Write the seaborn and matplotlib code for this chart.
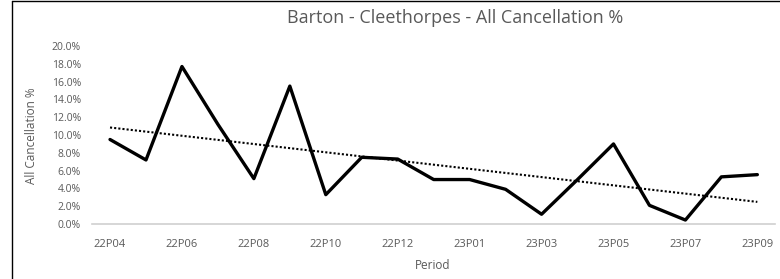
import numpy as np
import pandas as pd
import matplotlib
matplotlib.use("Agg")
import matplotlib.pyplot as plt
import seaborn as sns
from matplotlib.ticker import FuncFormatter

# ── DATA ─────────────────────────────────────────────────
periods = ["22P04", "22P05", "22P06", "22P07", "22P08", "22P09", "22P10",
           "22P11", "22P12", "22P13", "23P01", "23P02", "23P03", "23P04",
           "23P05", "23P06", "23P07", "23P08", "23P09"]
cancel_pct = [9.5, 7.2, 17.7, 11.2, 5.1, 15.5, 3.3, 7.5, 7.3, 5.0,
              5.0, 3.9, 1.1, 5.0, 9.0, 2.1, 0.45, 5.3, 5.55]
tick_labels = periods[::2]

df = pd.DataFrame({"period": periods, "pct": cancel_pct})
df["idx"] = np.arange(len(df))

# linear trendline (like Excel)
slope, intercept = np.polyfit(df["idx"], df["pct"], 1)
df["trend"] = intercept + slope * df["idx"]

# ── PLOT ─────────────────────────────────────────────────
sns.set_style("white")
plt.rcParams["font.family"] = ["Open Sans", "DejaVu Sans"]
grey = "#595959"

fig = plt.figure(figsize=(7.8, 2.79), dpi=100)
ax = fig.add_axes([0.118, 0.197, 0.876, 0.638])

sns.lineplot(data=df, x="idx", y="pct", ax=ax, color="black", linewidth=2.4)
sns.lineplot(data=df, x="idx", y="trend", ax=ax, color="black",
             linewidth=1.5, linestyle=(0, (1, 1)))

ax.set_xlim(-0.5, len(periods) - 0.5)
ax.set_ylim(0, 20)
ax.set_yticks(np.arange(0, 21, 2))
ax.yaxis.set_major_formatter(FuncFormatter(lambda v, p: f"{v:.1f}%"))
ax.set_xticks(df["idx"][::2])
ax.set_xticklabels(tick_labels)
ax.tick_params(axis="y", labelsize=7.5, colors=grey, length=0, pad=8)
ax.tick_params(axis="x", labelsize=8, colors=grey, length=0, pad=11)
ax.set_xlabel("")
ax.set_ylabel("")

for side in ["top", "right", "left"]:
    ax.spines[side].set_visible(False)
ax.spines["bottom"].set_color("#d0d0d0")
ax.spines["bottom"].set_linewidth(1.2)

fig.text(0.583, 0.935, "Barton - Cleethorpes - All Cancellation %",
         ha="center", va="center", fontsize=13, color=grey)
fig.text(0.04, 0.515, "All Cancellation %", rotation=90, ha="center",
         va="center", fontsize=8.5, color=grey)
fig.text(0.555, 0.05, "Period", ha="center", va="center",
         fontsize=8.5, color=grey)

# chart-area border (left and top edges visible in the crop)
fig.add_artist(plt.Line2D([0.016, 0.016], [0, 0.997], color="black", linewidth=1))
fig.add_artist(plt.Line2D([0.016, 1], [0.997, 0.997], color="black", linewidth=1))

fig.savefig("out.png", dpi=100)
